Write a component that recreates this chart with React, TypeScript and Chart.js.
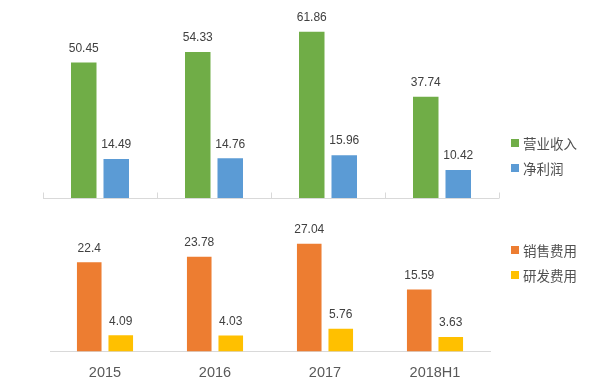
import React, { useEffect, useRef } from 'react';
import { Chart, registerables } from 'chart.js';

Chart.register(...registerables);

const categories = ['2015', '2016', '2017', '2018H1'];
const revenue = [50.45, 54.33, 61.86, 37.74];
const netProfit = [14.49, 14.76, 15.96, 10.42];
const salesExpense = [22.4, 23.78, 27.04, 15.59];
const rdExpense = [4.09, 4.03, 5.76, 3.63];

const topLabels = ['营业收入', '净利润'];
const bottomLabels = ['销售费用', '研发费用'];
const topColors = ['#70ad47', '#5b9bd5'];
const bottomColors = ['#ed7d31', '#ffc000'];

const FONT = '"Liberation Sans", "Noto Sans CJK SC", sans-serif';

const valueLabelPlugin = {
  id: 'valueLabels',
  afterDatasetsDraw(chart: any) {
    const ctx = chart.ctx;
    ctx.save();
    ctx.font = `12px ${FONT}`;
    ctx.fillStyle = '#404040';
    ctx.textAlign = 'center';
    ctx.textBaseline = 'middle';
    chart.data.datasets.forEach((ds: any, di: number) => {
      const meta = chart.getDatasetMeta(di);
      meta.data.forEach((bar: any, i: number) => {
        ctx.fillText(String(ds.data[i]), bar.x, bar.y - 14);
      });
    });
    ctx.restore();
  },
};

const topAxisPlugin = {
  id: 'topAxis',
  afterDatasetsDraw(chart: any) {
    const { ctx, chartArea } = chart;
    const n = chart.data.labels.length;
    const w = (chartArea.right - chartArea.left) / n;
    ctx.save();
    ctx.strokeStyle = '#d9d9d9';
    ctx.lineWidth = 1;
    ctx.beginPath();
    const y = Math.round(chartArea.bottom) + 0.5;
    ctx.moveTo(chartArea.left, y);
    ctx.lineTo(chartArea.right, y);
    for (let k = 0; k <= n; k++) {
      const x = Math.round(chartArea.left + k * w) + 0.5;
      ctx.moveTo(x, y);
      ctx.lineTo(x, y - 6);
    }
    ctx.stroke();
    ctx.restore();
  },
};

function Legend({ labels, colors, top }: { labels: string[]; colors: string[]; top: number }) {
  return (
    <>
      {labels.map((l, i) => (
        <div
          key={l}
          style={{
            position: 'absolute',
            left: 511,
            top: top + i * 25,
            height: 18,
            display: 'flex',
            alignItems: 'center',
            fontFamily: FONT,
            fontSize: 13.5,
            color: '#505050',
            whiteSpace: 'nowrap',
          }}
        >
          <span style={{ display: 'inline-block', width: 8, height: 8, background: colors[i], marginRight: 4 }} />
          {l}
        </div>
      ))}
    </>
  );
}

export default function App() {
  const topRef = useRef<HTMLCanvasElement>(null);
  const botRef = useRef<HTMLCanvasElement>(null);

  useEffect(() => {
    const top = new Chart(topRef.current!, {
      type: 'bar',
      data: {
        labels: categories,
        datasets: [
          { label: topLabels[0], data: revenue, backgroundColor: topColors[0], categoryPercentage: 0.57, barPercentage: 0.785 },
          { label: topLabels[1], data: netProfit, backgroundColor: topColors[1], categoryPercentage: 0.57, barPercentage: 0.785 },
        ],
      },
      options: {
        animation: false,
        responsive: false,
        layout: { padding: { left: 43, right: 103, top: 10, bottom: 7 } },
        plugins: { legend: { display: false }, tooltip: { enabled: false } },
        scales: {
          x: { display: false },
          y: { display: false, min: 0, max: 70 },
        },
      },
      plugins: [valueLabelPlugin, topAxisPlugin],
    });

    const bottom = new Chart(botRef.current!, {
      type: 'bar',
      data: {
        labels: categories,
        datasets: [
          { label: bottomLabels[0], data: salesExpense, backgroundColor: bottomColors[0], categoryPercentage: 0.573, barPercentage: 0.78 },
          { label: bottomLabels[1], data: rdExpense, backgroundColor: bottomColors[1], categoryPercentage: 0.573, barPercentage: 0.78 },
        ],
      },
      options: {
        animation: false,
        responsive: false,
        layout: { padding: { left: 50, right: 112, top: 7, bottom: 0 } },
        plugins: { legend: { display: false }, tooltip: { enabled: false } },
        scales: {
          x: {
            grid: { display: false, drawTicks: false },
            border: { display: true, color: '#d9d9d9' },
            ticks: { font: { family: FONT, size: 14.5 }, color: '#595959', padding: 13 },
          },
          y: { display: false, min: 0, max: 35 },
        },
      },
      plugins: [valueLabelPlugin],
    });

    return () => {
      top.destroy();
      bottom.destroy();
    };
  }, []);

  return (
    <div style={{ position: 'absolute', left: 0, top: 0, width: 602, height: 382, background: '#fff', overflow: 'hidden' }}>
      <canvas ref={topRef} width={602} height={205} style={{ position: 'absolute', left: 0, top: 0 }} />
      <canvas ref={botRef} width={602} height={190} style={{ position: 'absolute', left: 0, top: 205 }} />
      <Legend labels={topLabels} colors={topColors} top={134} />
      <Legend labels={bottomLabels} colors={bottomColors} top={241} />
    </div>
  );
}
